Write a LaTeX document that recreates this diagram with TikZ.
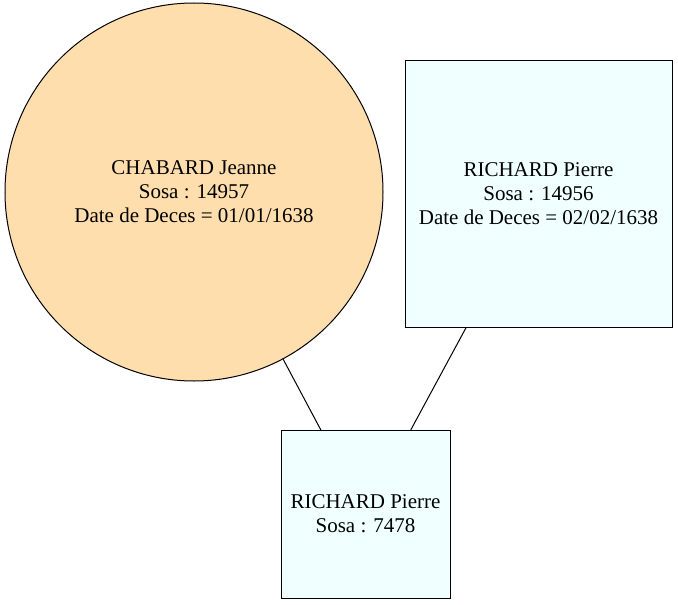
\documentclass[tikz,border=0pt]{standalone}
\usepackage{fontspec}
\setmainfont{Liberation Serif}
\usetikzlibrary{shapes, arrows, arrows.meta}
\definecolor{femme}{HTML}{FFDEAD}
\definecolor{homme}{HTML}{F0FFFF}
\tikzset{
    indiv/.style={draw, line width=1pt, inner sep=0pt, outer sep=0pt, align=center,
        font=\fontsize{21}{24}\selectfont},
    femme/.style={indiv, circle, fill=femme},
    homme/.style={indiv, rectangle, fill=homme}
}
\begin{document}
\begin{tikzpicture}[x=1pt, y=-1pt]
            \useasboundingbox (0, 0) rectangle (678, 605);
            \node[femme, minimum size=378pt] (n0) at (194, 192) {CHABARD Jeanne\\Sosa : 14957\\Date de Deces = 01/01/1638};
            \node[homme, minimum width=267pt, minimum height=267pt] (n1) at (538.5, 193.5) {RICHARD Pierre\\Sosa : 14956\\Date de Deces = 02/02/1638};
            \node[homme, minimum width=169pt, minimum height=168pt] (n2) at (365.5, 514) {RICHARD Pierre\\Sosa : 7478};
            
            \draw[line width=1pt] (n0) -- (n2);
            \draw[line width=1pt] (n1) -- (n2);
    	\end{tikzpicture}
\end{document}
